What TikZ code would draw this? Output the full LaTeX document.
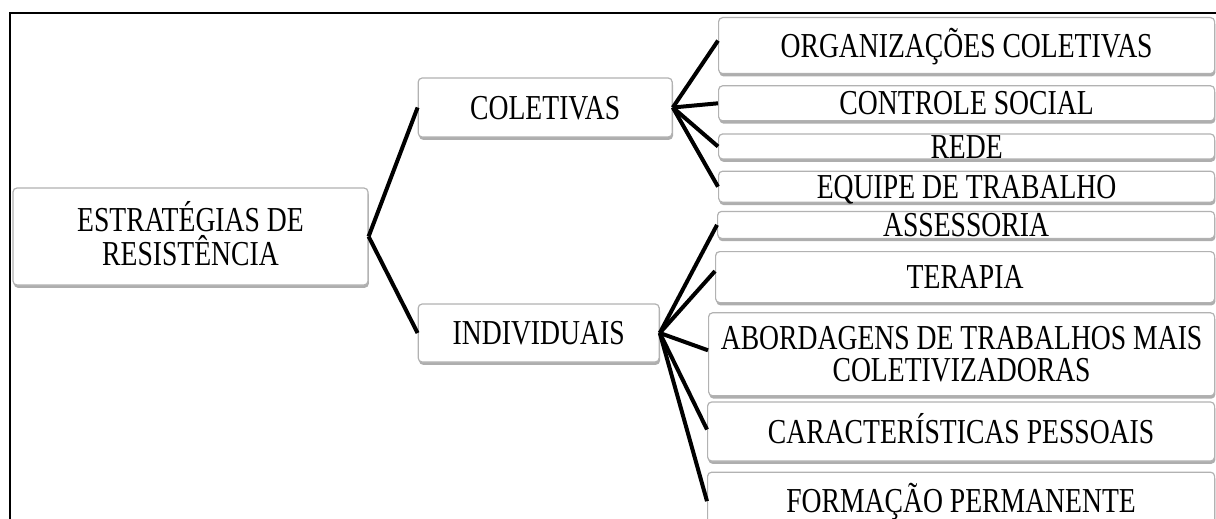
\documentclass[tikz,border=0pt]{standalone}
\usepackage{fontspec}
\setmainfont[FakeStretch=0.79]{Liberation Serif}
\usetikzlibrary{positioning,shadows}
\tikzset{box/.style={draw=gray!60, fill=white, rounded corners=2pt, line width=0.6pt, inner sep=0pt, align=center, font=\fontsize{17.5}{15.5}\selectfont, text height=11.6pt, text depth=0pt, drop shadow={shadow xshift=0.4pt, shadow yshift=-1.4pt, opacity=0.45, fill=black!70}}}
\tikzset{leaf/.style={box, anchor=north west}}
\tikzset{line/.style={draw, line width=2pt}}

\begin{document}
\begin{tikzpicture}[x=0.5pt,y=-0.5pt]
			\clip (0,0) rectangle (1216,519);
			\draw[line width=1pt] (10,530) -- (10,12.7) -- (1230,12.7);
			\node [box, minimum width=177.5pt, minimum height=48.5pt, text height=28.6pt, font=\fontsize{17.5}{17}\selectfont] (root) at (190.5,236.5) {ESTRATÉGIAS DE\\RESISTÊNCIA};
			\node [box, minimum width=127pt, minimum height=29.5pt, right=24.5pt of root, yshift=64.5pt]    (c)    {COLETIVAS};
			\node [box, minimum width=120.5pt, minimum height=29pt, right=24.5pt of root, yshift=-48.25pt]  (i)    {INDIVIDUAIS};
			\node [leaf, minimum width=248pt, minimum height=28pt] (c1) at (718,17) {ORGANIZAÇÕES COLETIVAS};
			\node [leaf, minimum width=248pt, minimum height=17.5pt, below=5.5pt of c1.south west, anchor=north west]  (c2)  {CONTROLE SOCIAL};
			\node [leaf, minimum width=248pt, minimum height=12.5pt, below=6pt of c2.south west, anchor=north west]    (c3)  {REDE};
			\node [leaf, minimum width=248pt, minimum height=15.5pt, below=5.5pt of c3.south west, anchor=north west]  (c4)  {EQUIPE DE TRABALHO};
			\node [leaf, minimum width=248.5pt, minimum height=13.5pt, below=4pt of c4.south west, anchor=north west, xshift=-0.5pt]  (i1)  {ASSESSORIA};
			\node [leaf, minimum width=249.5pt, minimum height=25.5pt, below=6pt of i1.south west, anchor=north west, xshift=-1pt]    (i2)  {TERAPIA};
			\node [leaf, minimum width=253pt, minimum height=41.5pt, text height=27.6pt, below=4.5pt of i2.south west, anchor=north west, xshift=-3.5pt, font=\fontsize{17.5}{16}\selectfont]  (i3)  {ABORDAGENS DE TRABALHOS MAIS\\COLETIVIZADORAS};
			\node [leaf, minimum width=253.5pt, minimum height=29.5pt, below=2.5pt of i3.south west, anchor=north west, xshift=-0.5pt]  (i4)  {CARACTERÍSTICAS PESSOAIS};
			\node [leaf, minimum width=253.5pt, minimum height=29pt, below=5pt of i4.south west, anchor=north west]    (i5)  {FORMAÇÃO PERMANENTE};
			%
			\path [line] (root.east) -- (c.west);
			\path [line] (root.east) -- (i.west);
			\path [line] (c.east) -- ([yshift=2.5pt]c1.west);
			\path [line] (c.east) -- (c2.west);
			\path [line] (c.east) -- (c3.west);
			\path [line] (c.east) -- (c4.west);
			\path [line] (i.east) -- (i1.west);
			\path [line] (i.east) -- ([yshift=3pt]i2.west);
			\path [line] (i.east) -- ([yshift=2pt]i3.west);
			\path [line] (i.east) -- ([yshift=1pt]i4.west);
			\path [line] (i.east) -- (i5.west);
\end{tikzpicture}
\end{document}
